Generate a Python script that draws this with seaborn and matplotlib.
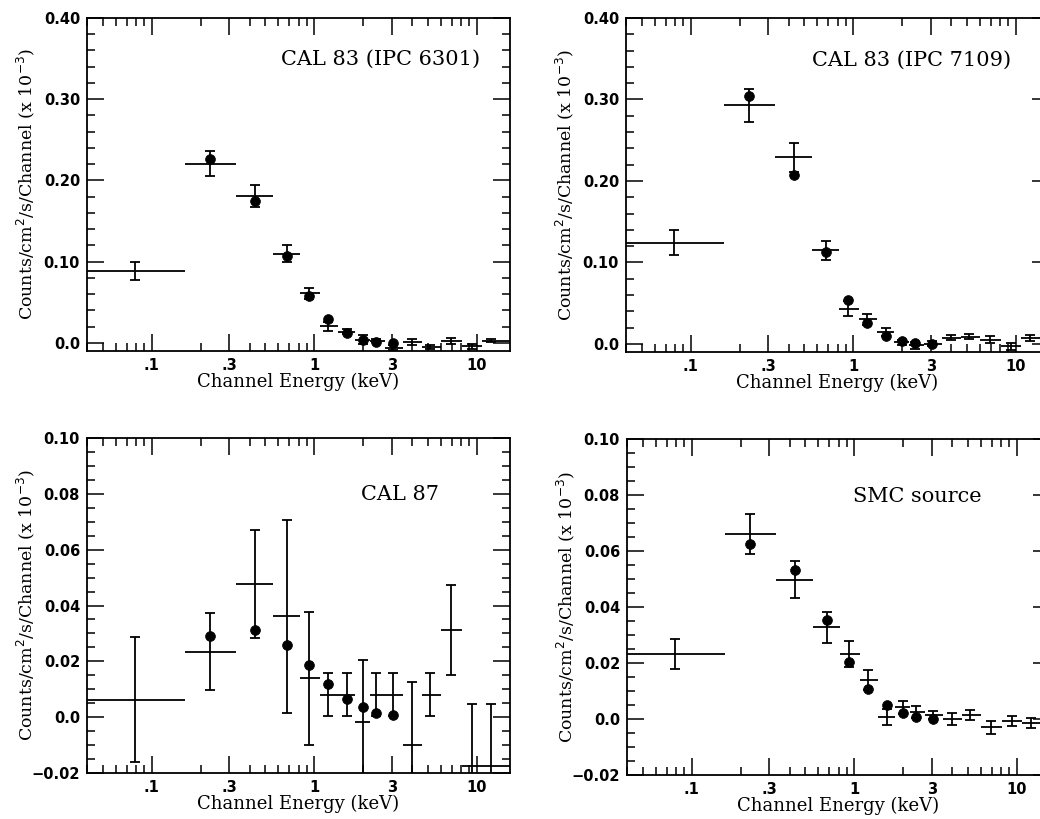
import numpy as np
import matplotlib
matplotlib.use("Agg")
import matplotlib.pyplot as plt
from matplotlib.ticker import FixedLocator, FuncFormatter, MultipleLocator
import seaborn as sns

# channel energy bins (keV), shared by all four spectra
e_lo = [0.04, 0.16, 0.33, 0.56, 0.82, 1.08, 1.39, 1.79, 2.2, 2.71, 3.5, 4.57, 6.0, 8.07, 10.8]
e_hi = [0.16, 0.33, 0.56, 0.82, 1.08, 1.39, 1.79, 2.2, 2.71, 3.5, 4.57, 6.0, 8.07, 10.8, 16.0]
e_mid = [0.079, 0.227, 0.43, 0.68, 0.93, 1.22, 1.58, 1.99, 2.41, 3.06, 4.02, 5.17, 6.95, 9.35, 12.3]
# model points (filled circles) sit on bins 2..10
e_model = e_mid[1:10]

# CAL 83 (IPC 6301)
rate_6301 = [0.0888, 0.2204, 0.181, 0.110, 0.0608, 0.0206, 0.0136, 0.0041, 0.0025,
             -0.006, 0.001, -0.005, 0.0025, -0.004, 0.0025]
err_6301 = [0.0108, 0.0155, 0.0135, 0.010, 0.0072, 0.0055, 0.003, 0.006, 0.002,
            0.003, 0.004, 0.003, 0.004, 0.003, 0.002]
model_6301 = [0.2265, 0.1747, 0.1073, 0.058, 0.0288, 0.0127, 0.0041, 0.0016, 0.0]

# CAL 83 (IPC 7109)
rate_7109 = [0.124, 0.2928, 0.229, 0.115, 0.043, 0.0299, 0.0143, 0.002, -0.002,
             0.0, 0.0074, 0.0086, 0.0053, -0.003, 0.0074]
err_7109 = [0.0155, 0.020, 0.018, 0.0117, 0.009, 0.0062, 0.005, 0.003, 0.004,
            0.003, 0.003, 0.003, 0.004, 0.0045, 0.004]
model_7109 = [0.3047, 0.207, 0.1129, 0.0544, 0.025, 0.0102, 0.0033, 0.0012, 0.0]

# CAL 87
rate_cal87 = [0.0062, 0.0235, 0.0476, 0.0361, 0.0139, 0.008, 0.008, -0.0018, 0.008,
              0.008, -0.0098, 0.008, 0.0313, -0.0176, -0.0176]
err_cal87 = [0.0224, 0.0137, 0.0193, 0.0346, 0.0237, 0.0077, 0.0077, 0.0224, 0.0077,
             0.0077, 0.0225, 0.0077, 0.0161, 0.0224, 0.0224]
model_cal87 = [0.0292, 0.0311, 0.026, 0.0187, 0.0119, 0.0065, 0.0036, 0.0015, 0.0006]

# SMC source
rate_smc = [0.0233, 0.0661, 0.0498, 0.0327, 0.0233, 0.014, 0.0007, 0.0042, 0.0024,
            0.0015, 0.0, 0.0015, -0.003, -0.0006, -0.0014]
err_smc = [0.0054, 0.0072, 0.0067, 0.0056, 0.0047, 0.0036, 0.0027, 0.0024, 0.0021,
           0.0015, 0.002, 0.0018, 0.0022, 0.0018, 0.0018]
model_smc = [0.0625, 0.0533, 0.0355, 0.0204, 0.0107, 0.0049, 0.0021, 0.0007, 0.0001]

x_ticks = [0.1, 0.3, 1, 3, 10]
x_ticklabels = [".1", ".3", "1", "3", "10"]

sns.set_style("ticks")
plt.rcParams.update({
    "xtick.direction": "in", "ytick.direction": "in",
    "xtick.top": True, "ytick.right": True,
    "axes.linewidth": 1.3,
    "text.color": "black", "axes.labelcolor": "black", "axes.edgecolor": "black",
    "xtick.color": "black", "ytick.color": "black",
})

fig = plt.figure(figsize=(10.4, 8.19), dpi=100)

W, H = 1040, 819
panels = [
    dict(box=(87, 18, 423, 351), rate=rate_6301, err=err_6301, model=model_6301,
         title="CAL 83 (IPC 6301)", tpos=(0.693, 0.877), ylim=(-0.01, 0.40),
         major=0.10, minor=0.02),
    dict(box=(626, 18, 423, 352), rate=rate_7109, err=err_7109, model=model_7109,
         title="CAL 83 (IPC 7109)", tpos=(0.676, 0.872), ylim=(-0.01, 0.40),
         major=0.10, minor=0.02),
    dict(box=(87, 438, 423, 773), rate=rate_cal87, err=err_cal87, model=model_cal87,
         title="CAL 87", tpos=(0.74, 0.83), ylim=(-0.02, 0.10),
         major=0.02, minor=0.005),
    dict(box=(627, 439, 423, 775), rate=rate_smc, err=err_smc, model=model_smc,
         title="SMC source", tpos=(0.686, 0.83), ylim=(-0.02, 0.10),
         major=0.02, minor=0.005),
]


def ylab(v, pos):
    if abs(v) < 1e-9:
        return "0.0"
    return f"{v:.2f}".replace("-", "\u2212")


minor_x = [m * 10.0 ** k for k in (-2, -1, 0, 1) for m in range(2, 10)]
minor_x = [v for v in minor_x if not any(abs(v - t) < 1e-9 for t in x_ticks)]

for p in panels:
    left, top, width, bottom = p["box"]
    ax = fig.add_axes([left / W, 1 - bottom / H, width / W, (bottom - top) / H])
    mid = np.array(e_mid)
    xerr = [mid - np.array(e_lo), np.array(e_hi) - mid]
    # horizontal bars: channel widths (no caps)
    ax.errorbar(e_mid, p["rate"], xerr=xerr, fmt="none", ecolor="black",
                elinewidth=1.3, capsize=0)
    # vertical bars with caps
    ax.errorbar(e_mid, p["rate"], yerr=p["err"], fmt="none", ecolor="black",
                elinewidth=1.3, capsize=3.5, capthick=1.3)
    sns.scatterplot(x=e_model, y=p["model"], color="black", s=50,
                    edgecolor="black", linewidth=0.5, ax=ax, zorder=3, legend=False)

    ax.set_xscale("log")
    ax.set_xlim(0.04, 16)
    ax.set_ylim(*p["ylim"])
    ax.xaxis.set_major_locator(FixedLocator(x_ticks))
    ax.xaxis.set_minor_locator(FixedLocator(minor_x))
    ax.set_xticklabels(x_ticklabels)
    ax.yaxis.set_major_locator(MultipleLocator(p["major"]))
    ax.yaxis.set_minor_locator(MultipleLocator(p["minor"]))
    ax.yaxis.set_major_formatter(FuncFormatter(ylab))
    ax.tick_params(which="major", length=12, width=1.1, labelsize=10.5, pad=5)
    ax.tick_params(which="minor", length=6, width=1.1)
    for lab in ax.get_xticklabels() + ax.get_yticklabels():
        lab.set_fontweight("bold")
    for s in ax.spines.values():
        s.set_visible(True)

    ax.set_xlabel("Channel Energy (keV)", family="DejaVu Serif", fontsize=13, labelpad=0)
    ax.set_ylabel(r"Counts/cm$^{2}$/s/Channel (x 10$^{-3}$)", family="DejaVu Serif",
                  fontsize=12.5)
    ax.yaxis.set_label_coords(-50 / width, 0.5)
    ax.text(p["tpos"][0], p["tpos"][1], p["title"], transform=ax.transAxes,
            ha="center", va="center", family="DejaVu Serif", fontsize=15)

fig.savefig("out.png", dpi=100)
